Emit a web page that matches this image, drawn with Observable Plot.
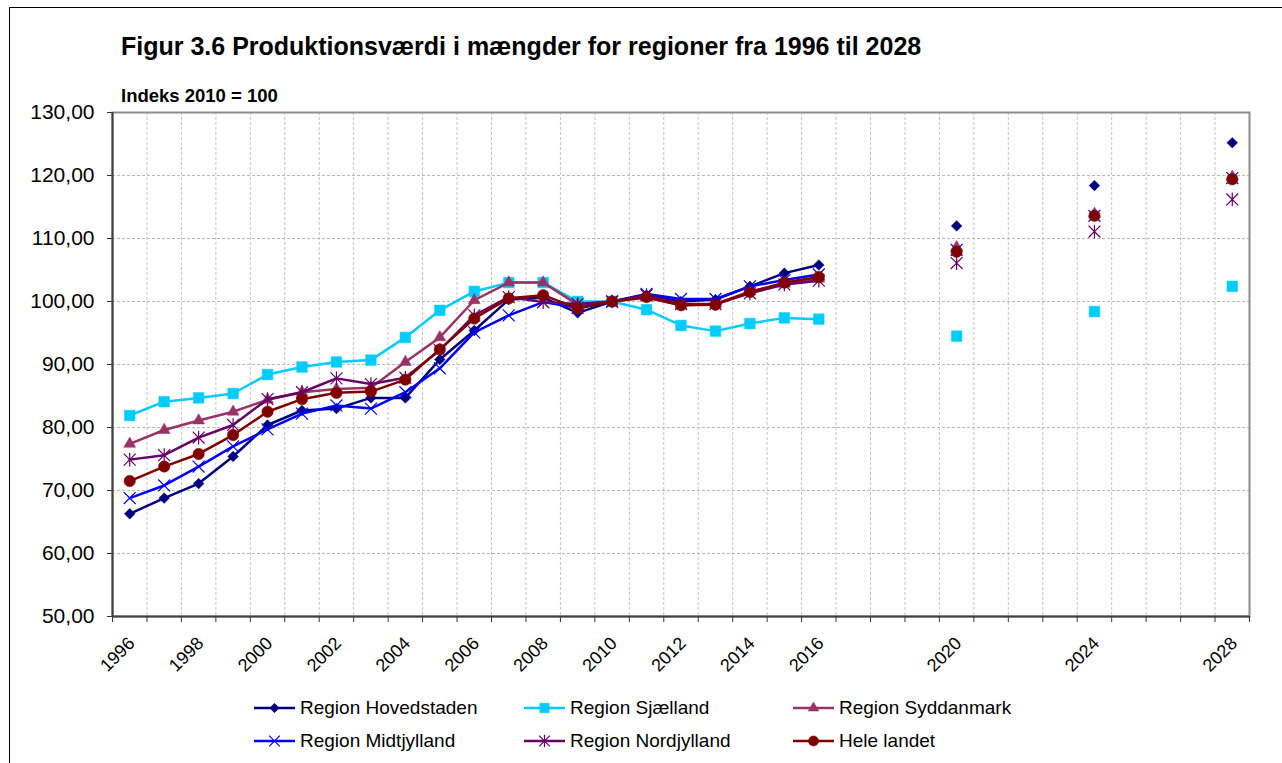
<!DOCTYPE html>
<html>
<head>
<meta charset="utf-8">
<script src="https://cdn.jsdelivr.net/npm/d3@7"></script>
<script src="https://cdn.jsdelivr.net/npm/@observablehq/plot@0.6"></script>
<style>
  body { margin: 0; background: #fff; }
  #wrap { position: relative; width: 1282px; height: 763px; overflow: hidden; background: #fff;
          font-family: Arial, "Liberation Sans", sans-serif; }
  #border { position: absolute; left: 9px; top: 7px; width: 1300px; height: 800px; border: 1px solid #000; }
  #title { position: absolute; left: 121px; top: 34px; font-size: 25px; font-weight: bold; line-height: 25px; white-space: nowrap; color: #000; }
  #subtitle { position: absolute; left: 121px; top: 87px; font-size: 18.5px; font-weight: bold; line-height: 18.5px; white-space: nowrap; color: #000; }
  #chart { position: absolute; left: 0; top: 0; }
  .leg { position: absolute; height: 24px; display: flex; align-items: center; font-size: 19px; white-space: nowrap; color: #000; }
  .leg svg { margin-right: 4px; }
</style>
</head>
<body>
<div id="wrap">
  <div id="border"></div>
  <div id="chart"></div>
  <div id="title">Figur 3.6 Produktionsværdi i mængder for regioner fra 1996 til 2028</div>
  <div id="subtitle">Indeks 2010 = 100</div>
  <div id="legend"></div>
</div>
<script>
// ---- data ----
const dataYears = [1996,1997,1998,1999,2000,2001,2002,2003,2004,2005,2006,2007,2008,2009,2010,2011,2012,2013,2014,2015,2016,2020,2024,2028];
const labelYears = [1996,1998,2000,2002,2004,2006,2008,2010,2012,2014,2016,2020,2024,2028];
const yTicks = [50,60,70,80,90,100,110,120,130];

const hovedstaden = [66.3,68.8,71.1,75.4,80.4,82.7,83.0,84.7,84.7,90.8,95.4,100.3,100.6,98.2,100.0,101.0,100.0,100.3,102.4,104.5,105.8,112.0,118.4,125.2];
const sjaelland   = [81.9,84.1,84.7,85.4,88.4,89.6,90.4,90.7,94.3,98.6,101.6,103.0,103.0,100.0,100.0,98.7,96.2,95.3,96.5,97.4,97.2,94.5,98.4,102.4];
const syddanmark  = [77.4,79.6,81.1,82.5,84.4,85.6,86.1,86.3,90.4,94.3,100.2,103.0,103.0,99.5,100.0,100.6,99.4,99.6,101.6,102.8,103.6,108.6,113.9,119.8];
const midtjylland = [68.8,70.8,73.8,77.0,79.7,82.2,83.5,83.0,85.6,89.4,95.1,97.8,99.9,99.0,100.0,101.2,100.4,100.4,102.4,103.4,104.3,108.2,113.6,119.6];
const nordjylland = [74.9,75.6,78.4,80.4,84.5,85.6,87.8,86.9,87.9,92.3,97.8,100.7,99.9,99.6,100.0,101.0,99.6,99.6,101.3,102.7,103.3,106.1,111.1,116.2];
const heleLandet  = [71.5,73.8,75.8,78.8,82.5,84.5,85.5,85.7,87.6,92.4,97.3,100.5,101.0,98.9,100.0,100.7,99.4,99.5,101.5,103.0,103.9,107.9,113.6,119.4];

const seriesNames = ["Region Hovedstaden","Region Sjælland","Region Syddanmark","Region Midtjylland","Region Nordjylland","Hele landet"];
const seriesValues = [hovedstaden, sjaelland, syddanmark, midtjylland, nordjylland, heleLandet];
const seriesColors = ["#000080","#00CCFF","#993366","#0000FF","#660066","#800000"];

// Excel-like star marker (X plus vertical bar) and X marker
const starSymbol = { draw(ctx, size) { const r = Math.sqrt(size) * 0.42;
  ctx.moveTo(-r,-r); ctx.lineTo(r,r); ctx.moveTo(-r,r); ctx.lineTo(r,-r); ctx.moveTo(0,-r*1.15); ctx.lineTo(0,r*1.15); } };
const timesSymbol = { draw(ctx, size) { const r = Math.sqrt(size) * 0.42;
  ctx.moveTo(-r,-r); ctx.lineTo(r,r); ctx.moveTo(-r,r); ctx.lineTo(r,-r); } };

const markerStyles = [
  {symbol: "diamond2", r: 4.8, filled: true},
  {symbol: "square", r: 6.0, filled: true},
  {symbol: "triangle", r: 4.4, filled: true},
  {symbol: timesSymbol, r: 8.0, filled: false},
  {symbol: starSymbol, r: 8.0, filled: false},
  {symbol: "circle", r: 5.7, filled: true}
];

// ---- build ----
const boundaries = d3.range(1995.5, 2029, 1);
const fmt = d => d.toFixed(2).replace(".", ",");

const seriesMarks = [];
seriesNames.forEach((name, i) => {
  const rows = dataYears.map((y, j) => ({year: y, value: seriesValues[i][j]}));
  const lineRows = rows.filter(d => d.year <= 2016);
  const col = seriesColors[i];
  const ms = markerStyles[i];
  seriesMarks.push(Plot.line(lineRows, {x: "year", y: "value", stroke: col, strokeWidth: 2.5}));
  seriesMarks.push(Plot.dot(rows, ms.filled
    ? {x: "year", y: "value", symbol: ms.symbol, r: ms.r, fill: col, stroke: col, strokeWidth: 0.5}
    : {x: "year", y: "value", symbol: ms.symbol, r: ms.r, fill: "none", stroke: col, strokeWidth: 1.2}));
});

const chart = Plot.plot({
  width: 1282,
  height: 763,
  marginLeft: 112,
  marginRight: 33,
  marginTop: 112,
  marginBottom: 147,
  x: {type: "linear", domain: [1995.5, 2028.5], axis: null, label: null},
  y: {domain: [50, 130], axis: null, label: null},
  style: {fontFamily: "Arial, 'Liberation Sans', sans-serif", background: "transparent", color: "#000"},
  marks: [
    Plot.ruleY(yTicks.slice(1, -1), {stroke: "#b8b8b8", strokeDasharray: "3,2", strokeWidth: 1}),
    Plot.ruleX(boundaries.slice(1, -1), {stroke: "#c4c4c4", strokeDasharray: "3,2", strokeWidth: 1}),
    Plot.frame({stroke: "#8c8c8c", strokeWidth: 2}),
    Plot.axisY({ticks: yTicks, tickSize: 5, tickPadding: 13, tickFormat: fmt, fontSize: 21, stroke: "#333", label: null}),
    Plot.axisX({ticks: boundaries, tickSize: 6, tickFormat: () => "", stroke: "#333", label: null}),
    Plot.ruleX([1995.5], {stroke: "#404040", strokeWidth: 2}),
    Plot.ruleY([50], {stroke: "#404040", strokeWidth: 2}),
    Plot.text(labelYears, {x: d => d, frameAnchor: "bottom", rotate: -45, textAnchor: "end", dx: 6, dy: 28, fontSize: 18, fill: "#000", text: d => String(d)}),
    ...seriesMarks
  ]
});
document.getElementById("chart").appendChild(chart);

// ---- legend (HTML) ----
const legendPos = [
  {left: 254, top: 696}, {left: 524, top: 696}, {left: 793, top: 696},
  {left: 254, top: 729}, {left: 524, top: 729}, {left: 793, top: 729}
];
const legend = document.getElementById("legend");
const svgNS = "http://www.w3.org/2000/svg";
const d3sym = {diamond2: d3.symbolDiamond2, square: d3.symbolSquare, triangle: d3.symbolTriangle, circle: d3.symbolCircle};
seriesNames.forEach((name, i) => {
  const div = document.createElement("div");
  div.className = "leg";
  div.style.left = legendPos[i].left + "px";
  div.style.top = legendPos[i].top + "px";
  const ms = markerStyles[i];
  const col = seriesColors[i];
  const svg = document.createElementNS(svgNS, "svg");
  svg.setAttribute("width", 42); svg.setAttribute("height", 24);
  const ln = document.createElementNS(svgNS, "line");
  ln.setAttribute("x1", 0); ln.setAttribute("x2", 41); ln.setAttribute("y1", 12); ln.setAttribute("y2", 12);
  ln.setAttribute("stroke", col); ln.setAttribute("stroke-width", 2.5);
  svg.appendChild(ln);
  const symObj = typeof ms.symbol === "string" ? d3sym[ms.symbol] : ms.symbol;
  const p = document.createElementNS(svgNS, "path");
  p.setAttribute("d", d3.symbol(symObj, Math.PI * ms.r * ms.r * 0.8)());
  p.setAttribute("transform", "translate(20.5,12)");
  if (ms.filled) { p.setAttribute("fill", col); p.setAttribute("stroke", col); p.setAttribute("stroke-width", 0.5); }
  else { p.setAttribute("fill", "none"); p.setAttribute("stroke", col); p.setAttribute("stroke-width", 1.2); }
  svg.appendChild(p);
  div.appendChild(svg);
  const span = document.createElement("span");
  span.textContent = name;
  div.appendChild(span);
  legend.appendChild(div);
});
</script>
</body>
</html>
